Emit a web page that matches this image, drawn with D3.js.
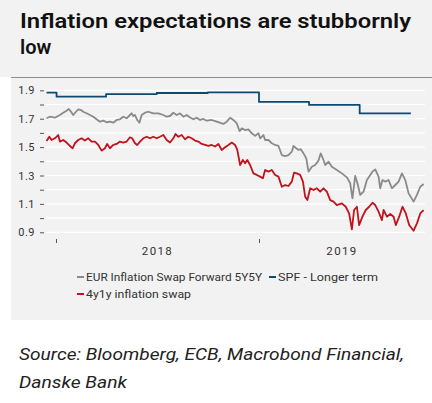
<!DOCTYPE html>
<html>
<head>
<meta charset="UTF-8">
<title>Inflation expectations</title>
<style>
  body { margin: 0; background: #fff; }
  svg { display: block; }
</style>
</head>
<body>
<script src="https://d3js.org/d3.v7.min.js"></script>
<script>
// EUR Inflation Swap Forward 5Y5Y
const fwdDates = ["2017-12-15","2017-12-21","2017-12-30","2018-01-08","2018-01-14","2018-01-20","2018-01-24","2018-01-28","2018-02-01","2018-02-06","2018-02-10","2018-02-15","2018-02-19","2018-02-25","2018-03-03","2018-03-09","2018-03-15","2018-03-21","2018-03-27","2018-04-02","2018-04-08","2018-04-14","2018-04-20","2018-04-26","2018-05-02","2018-05-08","2018-05-14","2018-05-17","2018-05-20","2018-05-23","2018-05-27","2018-05-31","2018-06-04","2018-06-10","2018-06-16","2018-06-25","2018-07-04","2018-07-13","2018-07-19","2018-07-25","2018-07-31","2018-08-06","2018-08-12","2018-08-18","2018-08-24","2018-08-30","2018-09-05","2018-09-11","2018-09-17","2018-09-23","2018-09-29","2018-10-08","2018-10-17","2018-10-29","2018-11-04","2018-11-10","2018-11-16","2018-11-22","2018-11-27","2018-12-01","2018-12-07","2018-12-13","2018-12-19","2018-12-25","2018-12-31","2019-01-03","2019-01-09","2019-01-12","2019-01-18","2019-01-24","2019-01-30","2019-02-05","2019-02-11","2019-02-17","2019-02-23","2019-03-01","2019-03-04","2019-03-09","2019-03-13","2019-03-17","2019-03-22","2019-03-27","2019-03-31","2019-04-06","2019-04-12","2019-04-18","2019-04-22","2019-04-27","2019-04-30","2019-05-06","2019-05-12","2019-05-21","2019-05-30","2019-06-08","2019-06-14","2019-06-18","2019-06-23","2019-06-27","2019-07-02","2019-07-08","2019-07-14","2019-07-18","2019-07-24","2019-07-29","2019-08-04","2019-08-07","2019-08-11","2019-08-16","2019-08-22","2019-08-28","2019-09-03","2019-09-09","2019-09-15","2019-09-21","2019-09-27","2019-10-06","2019-10-12","2019-10-18","2019-10-24"];
const fwdValues = [1.703,1.714,1.707,1.726,1.742,1.756,1.768,1.749,1.726,1.749,1.766,1.761,1.749,1.738,1.726,1.714,1.696,1.679,1.686,1.675,1.679,1.672,1.691,1.696,1.714,1.703,1.726,1.738,1.719,1.726,1.691,1.672,1.726,1.742,1.749,1.738,1.738,1.726,1.714,1.719,1.742,1.726,1.738,1.714,1.726,1.709,1.696,1.707,1.691,1.698,1.686,1.691,1.679,1.663,1.679,1.707,1.691,1.667,1.613,1.632,1.620,1.625,1.597,1.579,1.597,1.562,1.585,1.550,1.550,1.527,1.515,1.508,1.444,1.437,1.444,1.468,1.508,1.492,1.480,1.485,1.456,1.421,1.327,1.362,1.374,1.405,1.456,1.409,1.374,1.397,1.362,1.339,1.315,1.287,1.245,1.139,1.297,1.245,1.163,1.186,1.268,1.292,1.327,1.343,1.292,1.210,1.268,1.257,1.268,1.210,1.233,1.257,1.315,1.268,1.174,1.116,1.163,1.221,1.240];

// SPF - Longer term (quarterly survey, step line)
const spfDates = ["2017-12-15","2018-01-02","2018-04-01","2018-07-01","2018-10-01","2019-01-01","2019-04-01","2019-07-01","2019-10-01"];
const spfValues = [1.883,1.855,1.873,1.881,1.886,1.818,1.797,1.737,1.737];

// 4y1y inflation swap
const swapDates = ["2017-12-15","2017-12-20","2017-12-24","2017-12-30","2018-01-05","2018-01-08","2018-01-14","2018-01-20","2018-01-26","2018-01-31","2018-02-04","2018-02-10","2018-02-16","2018-02-22","2018-02-28","2018-03-06","2018-03-12","2018-03-18","2018-03-24","2018-03-30","2018-04-03","2018-04-08","2018-04-14","2018-04-20","2018-04-26","2018-05-02","2018-05-08","2018-05-14","2018-05-18","2018-05-23","2018-05-27","2018-06-01","2018-06-07","2018-06-13","2018-06-19","2018-06-25","2018-07-01","2018-07-07","2018-07-13","2018-07-19","2018-07-25","2018-07-31","2018-08-04","2018-08-09","2018-08-15","2018-08-21","2018-08-27","2018-09-02","2018-09-08","2018-09-14","2018-09-20","2018-09-26","2018-10-02","2018-10-08","2018-10-14","2018-10-20","2018-10-26","2018-11-01","2018-11-07","2018-11-13","2018-11-19","2018-11-23","2018-11-28","2018-12-03","2018-12-07","2018-12-11","2018-12-16","2018-12-22","2018-12-28","2019-01-03","2019-01-08","2019-01-12","2019-01-18","2019-01-24","2019-01-30","2019-02-05","2019-02-11","2019-02-17","2019-02-23","2019-03-01","2019-03-05","2019-03-10","2019-03-16","2019-03-21","2019-03-25","2019-03-29","2019-04-03","2019-04-09","2019-04-15","2019-04-21","2019-04-27","2019-05-03","2019-05-09","2019-05-15","2019-05-21","2019-05-30","2019-06-06","2019-06-12","2019-06-17","2019-06-21","2019-06-26","2019-06-30","2019-07-06","2019-07-12","2019-07-18","2019-07-24","2019-07-29","2019-08-04","2019-08-10","2019-08-13","2019-08-19","2019-08-25","2019-08-31","2019-09-04","2019-09-10","2019-09-16","2019-09-22","2019-09-28","2019-10-06","2019-10-12","2019-10-18","2019-10-24"];
const swapValues = [1.543,1.573,1.550,1.562,1.585,1.539,1.550,1.532,1.508,1.492,1.527,1.550,1.562,1.546,1.562,1.539,1.539,1.515,1.475,1.492,1.522,1.492,1.515,1.522,1.539,1.532,1.539,1.569,1.562,1.527,1.515,1.539,1.562,1.573,1.562,1.573,1.562,1.573,1.585,1.550,1.532,1.562,1.592,1.573,1.585,1.555,1.573,1.562,1.546,1.539,1.522,1.515,1.508,1.515,1.504,1.522,1.480,1.499,1.515,1.532,1.515,1.480,1.374,1.409,1.386,1.409,1.374,1.315,1.304,1.292,1.280,1.339,1.327,1.339,1.304,1.292,1.221,1.233,1.226,1.257,1.320,1.315,1.304,1.257,1.151,1.127,1.210,1.198,1.210,1.186,1.210,1.186,1.127,1.116,1.092,1.104,1.080,1.033,0.921,1.057,1.080,0.951,1.010,1.057,1.080,1.108,1.092,1.045,0.986,1.057,1.010,1.029,1.010,0.951,1.010,1.080,1.033,0.951,0.911,0.963,1.033,1.057];

const yTicks = [0.9, 1.0, 1.1, 1.2, 1.3, 1.4, 1.5, 1.6, 1.7, 1.8, 1.9];
const yLabels = [0.9, 1.1, 1.3, 1.5, 1.7, 1.9];
const years = ["2018", "2019"];

const series = [
  { name: "EUR Inflation Swap Forward 5Y5Y", dates: fwdDates, values: fwdValues, color: "#8a8a8a", curve: d3.curveLinear },
  { name: "SPF - Longer term", dates: spfDates, values: spfValues, color: "#0d4a72", curve: d3.curveStepAfter },
  { name: "4y1y inflation swap", dates: swapDates, values: swapValues, color: "#c0131b", curve: d3.curveLinear }
];

const width = 432, height = 403;
const parse = d3.timeParse("%Y-%m-%d");
const font = "Roboto, 'Noto Sans', sans-serif";

const svg = d3.select("body").append("svg").attr("width", width).attr("height", height);

// backgrounds
svg.append("rect").attr("x", 0).attr("y", 0).attr("width", width).attr("height", 77).attr("fill", "#f2f2f2");
svg.append("rect").attr("x", 11).attr("y", 77).attr("width", width - 11).attr("height", 243).attr("fill", "#f2f2f2");
svg.append("line").attr("x1", 11).attr("x2", width).attr("y1", 77.5).attr("y2", 77.5)
  .attr("stroke", "#8c8c8c").attr("stroke-width", 1.2);

// title
const title = svg.append("text").attr("font-family", font).attr("font-weight", 600)
  .attr("font-size", 20).attr("fill", "#111");
title.append("tspan").attr("x", 20).attr("y", 28).text("Inflation expectations are stubbornly")
  .attr("textLength", 391).attr("lengthAdjust", "spacingAndGlyphs");
title.append("tspan").attr("x", 20).attr("y", 54).text("low");

const plotLeft = 46, plotRight = 425;
const x = d3.scaleTime()
  .domain([new Date(2018, 0, 1), new Date(2019, 0, 1)])
  .range([56, 259]);
const y = d3.scaleLinear().domain([0.9, 1.9]).range([232.3, 90.3]);

// gridlines
svg.append("g").selectAll("line").data(yTicks).enter().append("line")
  .attr("x1", plotLeft).attr("x2", plotRight)
  .attr("y1", d => y(d)).attr("y2", d => y(d))
  .attr("stroke", "#ffffff").attr("stroke-width", 1.2);

// y axis
const yAxis = d3.axisLeft(y).tickValues(yTicks).tickSize(4).tickPadding(5)
  .tickFormat(d => yLabels.some(v => Math.abs(v - d) < 1e-6) ? d3.format(".1f")(d) : "");
const gy = svg.append("g").attr("transform", "translate(44,0)").call(yAxis);
gy.select(".domain").remove();
gy.selectAll(".tick line").attr("stroke", "#555");
gy.selectAll(".tick text").attr("font-family", font).attr("font-size", 11).attr("letter-spacing", 0.5).attr("fill", "#333");

// x axis: year boundary ticks and centered year labels
const yearStarts = [new Date(2018, 0, 1), new Date(2019, 0, 1)];
const xAxis = d3.axisBottom(x).tickValues(yearStarts).tickSize(4).tickFormat("");
const gx = svg.append("g").attr("transform", "translate(0,239)").call(xAxis);
gx.select(".domain").remove();
gx.selectAll(".tick line").attr("stroke", "#555");

const yearEnds = [x(new Date(2019, 0, 1)), plotRight];
svg.append("g").selectAll("text").data(years).enter().append("text")
  .attr("x", (d, i) => (x(yearStarts[i]) + yearEnds[i]) / 2)
  .attr("y", 255)
  .attr("text-anchor", "middle")
  .attr("font-family", font).attr("font-size", 11.5).attr("letter-spacing", 1.4).attr("fill", "#333")
  .text(d => d);

// lines
series.forEach(s => {
  const pts = s.dates.map((d, i) => [parse(d), s.values[i]]);
  const line = d3.line().x(d => x(d[0])).y(d => y(d[1])).curve(s.curve);
  svg.append("path").datum(pts)
    .attr("d", line)
    .attr("fill", "none")
    .attr("stroke", s.color)
    .attr("stroke-width", 1.8)
    .attr("stroke-linejoin", "round");
});

// legend
const legendPos = [[77, 277], [269, 277], [77, 294]];
const legendWidths = [176, 100, 105];
const lg = svg.append("g").selectAll("g").data(series).enter().append("g")
  .attr("transform", (d, i) => "translate(" + legendPos[i][0] + "," + legendPos[i][1] + ")");
lg.append("line").attr("x1", 0).attr("x2", 7).attr("y1", 0).attr("y2", 0)
  .attr("stroke", d => d.color).attr("stroke-width", 2);
lg.append("text").attr("x", 9).attr("y", 4)
  .attr("font-family", font).attr("font-size", 11).attr("fill", "#333")
  .attr("textLength", (d, i) => legendWidths[i]).attr("lengthAdjust", "spacingAndGlyphs")
  .text(d => d.name);

// source
const src = svg.append("text").attr("font-family", font).attr("font-style", "italic")
  .attr("font-size", 17).attr("fill", "#222");
src.append("tspan").attr("x", 19).attr("y", 360).text("Source: Bloomberg, ECB, Macrobond Financial,")
  .attr("textLength", 385).attr("lengthAdjust", "spacingAndGlyphs");
src.append("tspan").attr("x", 19).attr("y", 388).text("Danske Bank")
  .attr("textLength", 108).attr("lengthAdjust", "spacingAndGlyphs");
</script>
</body>
</html>
